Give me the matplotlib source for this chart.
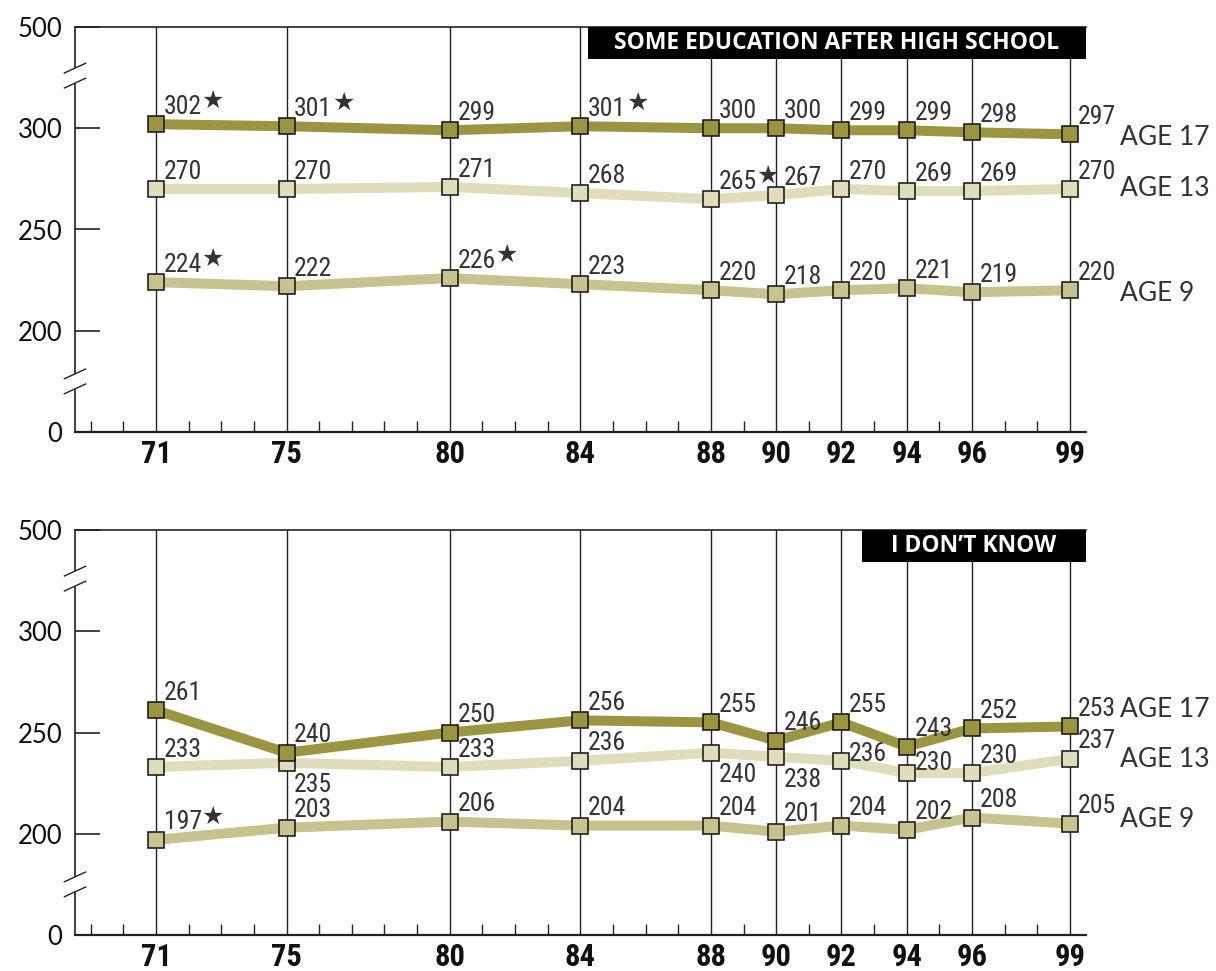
import matplotlib
matplotlib.use('Agg')
import matplotlib.pyplot as plt
from matplotlib import font_manager as fm

# ---------------- data ----------------
years = [71, 75, 80, 84, 88, 90, 92, 94, 96, 99]
year_labels = ['71', '75', '80', '84', '88', '90', '92', '94', '96', '99']
minor_years = [69, 70, 72, 73, 74, 76, 77, 78, 79, 81, 82, 83, 85, 86, 87, 89, 91, 93, 95, 97, 98]

panel_titles = ['SOME EDUCATION AFTER HIGH SCHOOL', 'I DON\u2019T KNOW']
series_names = ['AGE 9', 'AGE 13', 'AGE 17']

edu_age9 = [224, 222, 226, 223, 220, 218, 220, 221, 219, 220]
edu_age13 = [270, 270, 271, 268, 265, 267, 270, 269, 269, 270]
edu_age17 = [302, 301, 299, 301, 300, 300, 299, 299, 298, 297]
edu_star9 = [1, 0, 1, 0, 0, 0, 0, 0, 0, 0]
edu_star13 = [0, 0, 0, 0, 1, 0, 0, 0, 0, 0]
edu_star17 = [1, 1, 0, 1, 0, 0, 0, 0, 0, 0]

dk_age9 = [197, 203, 206, 204, 204, 201, 204, 202, 208, 205]
dk_age13 = [233, 235, 233, 236, 240, 238, 236, 230, 230, 237]
dk_age17 = [261, 240, 250, 256, 255, 246, 255, 243, 252, 253]
dk_star9 = [1, 0, 0, 0, 0, 0, 0, 0, 0, 0]
dk_star13 = [0] * 10
dk_star17 = [0] * 10

ytick_pos = [150, 200, 250, 300, 350]   # broken scale: 150 -> 0, 350 -> 500
ytick_labels = ['0', '200', '250', '300', '500']

# ---------------- style ----------------
colors = ['#C7C38E', '#DFDDBB', '#9B9541']
names = {f.name for f in fm.fontManager.ttflist}
if 'Liberation Sans Narrow' in names:
    narrow = 'Liberation Sans Narrow'
elif 'Roboto Condensed' in names:
    narrow = 'Roboto Condensed'
else:
    narrow = 'Roboto'
plain = 'Lato' if 'Lato' in names else 'DejaVu Sans'
boxfont = 'Open Sans' if 'Open Sans' in names else 'DejaVu Sans'

W, H = 1216, 971
fig = plt.figure(figsize=(W / 100, H / 100), dpi=100)

ax_left = 75 / W
ax_w = 1011 / W
axes_boxes = [[ax_left, 1 - 432 / H, ax_w, 405 / H],
              [ax_left, 1 - 935 / H, ax_w, 405 / H]]
title_boxes = [(588, 1086), (862, 1086)]

panels = [
    ([edu_age9, edu_age13, edu_age17], [edu_star9, edu_star13, edu_star17]),
    ([dk_age9, dk_age13, dk_age17], [dk_star9, dk_star13, dk_star17]),
]

std_off = (5.5, 7.5)
# special label offsets (points) : panel -> series -> year -> (dx, dy)
special_off = {1: {1: {75: (5.5, -21), 88: (5.5, -21), 90: (5.5, -22),
                       92: (5.5, 0), 94: (5.5, 2)}}}
age_label_dy = [[-2.0, 0.5, -2.5], [3.0, -0.5, 12.5]]

for p, (box, (series, stars)) in enumerate(zip(axes_boxes, panels)):
    ax = fig.add_axes(box)
    ax.set_xlim(68.52, 99.49)
    ax.set_ylim(150, 350)
    for s in ['left', 'bottom', 'top']:
        ax.spines[s].set_color('#222222')
        ax.spines[s].set_linewidth(1.2)
    ax.spines['bottom'].set_linewidth(1.6)
    ax.spines['right'].set_visible(False)

    # vertical grid lines
    for yr in years:
        ax.axvline(yr, color='#222222', lw=1.0, zorder=1)

    ax.set_xticks(years)
    ax.set_xticklabels(year_labels, fontfamily=narrow, fontweight='bold',
                       fontsize=22, color='#111111')
    ax.set_xticks(minor_years, minor=True)
    ax.tick_params(axis='x', which='major', length=0, pad=5)
    ax.tick_params(axis='x', which='minor', direction='in', length=8,
                   width=1.0, color='#222222')
    ax.set_yticks(ytick_pos)
    ax.set_yticklabels(ytick_labels, fontfamily=plain, fontsize=18.5,
                       color='#111111')
    ax.tick_params(axis='y', which='major', direction='in', length=18,
                   width=1.2, color='#222222', pad=9)

    # axis break marks
    tr = ax.get_yaxis_transform()
    for c in (326, 175):
        ax.plot([0, 0], [c - 3.7, c + 3.7], transform=tr, color='white',
                lw=3, clip_on=False, zorder=4, solid_capstyle='butt')
        for d in (-3.7, 3.7):
            ax.plot([-0.0105, 0.0105], [c + d - 2.4, c + d + 2.4], transform=tr,
                    color='#222222', lw=1.0, clip_on=False, zorder=5)

    # series
    for si, (vals, st) in enumerate(zip(series, stars)):
        ax.plot(years, vals, color=colors[si], lw=7.2, zorder=3 + si,
                marker='s', markersize=11.5, markerfacecolor=colors[si],
                markeredgecolor='#111111', markeredgewidth=1.1,
                solid_joinstyle='round')
        for k, (yr, v) in enumerate(zip(years, vals)):
            off = special_off.get(p, {}).get(si, {}).get(yr, std_off)
            t = ax.annotate(str(v), xy=(yr, v), xytext=off,
                            textcoords='offset points', ha='left',
                            va='baseline', fontfamily=narrow, fontsize=18.5,
                            color='#333333', zorder=10)
            if st[k]:
                ax.annotate('\u2605', xy=(1, 1), xycoords=t, xytext=(0, 4),
                            textcoords='offset points', ha='left', va='top',
                            fontfamily='DejaVu Sans', fontsize=18,
                            color='#333333', zorder=10)
        ax.annotate(series_names[si], xy=(years[-1], vals[-1]),
                    xytext=(36, age_label_dy[p][si]), textcoords='offset points',
                    ha='left', va='center', fontfamily=plain, fontsize=19,
                    color='#333333', annotation_clip=False)

    # title box
    x0, x1 = title_boxes[p]
    fx0 = (x0 - 75) / 1011
    fx1 = (x1 - 75) / 1011
    hb = 32 / 405
    ax.add_patch(plt.Rectangle((fx0, 1 - hb), fx1 - fx0, hb,
                               transform=ax.transAxes, facecolor='black',
                               edgecolor='none', zorder=20, clip_on=False))
    ax.text((fx0 + fx1) / 2, 1 - hb / 2, panel_titles[p],
            transform=ax.transAxes, ha='center', va='center',
            fontfamily=boxfont, fontweight='bold', fontsize=16.5,
            color='white', zorder=21)

fig.savefig('out.png', dpi=100)
